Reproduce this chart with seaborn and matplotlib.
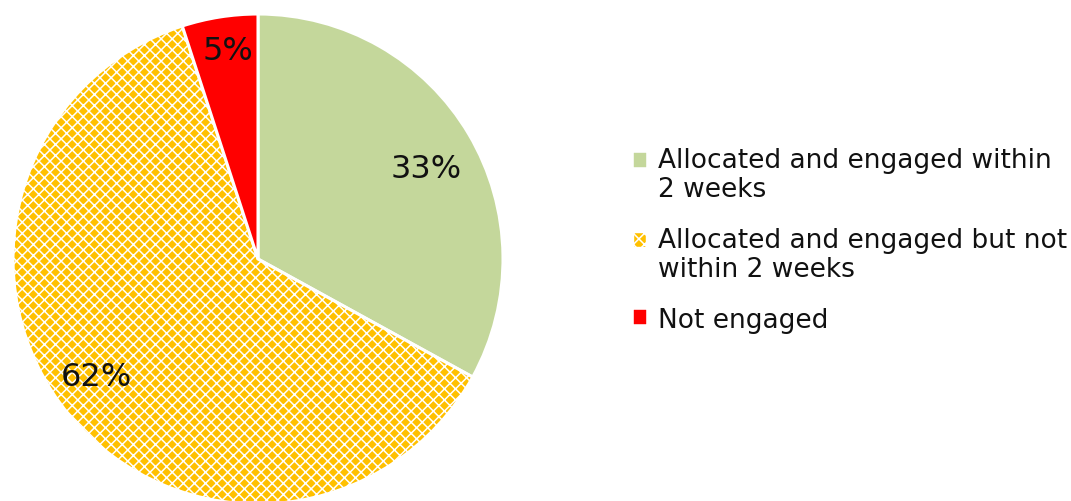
import matplotlib
matplotlib.use("Agg")
import matplotlib.pyplot as plt
from matplotlib.patches import Patch, Rectangle
from matplotlib.legend_handler import HandlerPatch
import numpy as np
import seaborn as sns

# Engagement outcome shares (percent)
categories = [
    "Allocated and engaged within\n2 weeks",
    "Allocated and engaged but not\nwithin 2 weeks",
    "Not engaged",
]
shares = [33, 62, 5]
slice_colors = ["#C4D79B", "#FFC000", "#FF0000"]
slice_hatches = [None, "xxx", None]

sns.set_theme(style="white")
plt.rcParams["font.family"] = ["DejaVu Sans"]
plt.rcParams["hatch.linewidth"] = 1.1

W, H = 1071, 502
fig = plt.figure(figsize=(W / 100, H / 100), dpi=100)
fig.patch.set_facecolor("white")

# pie axes placed in pixel terms: centre (258, 260), radius 245
cx, cy, r = 258, 260, 245
ax = fig.add_axes([(cx - r) / W, (H - cy - r) / H, 2 * r / W, 2 * r / H])
ax.set_axis_off()

palette = sns.color_palette(slice_colors)
wedges, _ = ax.pie(
    shares,
    colors=palette,
    startangle=90,
    counterclock=False,
    radius=1.0,
    wedgeprops=dict(edgecolor="white", linewidth=2.2),
)
for w, h in zip(wedges, slice_hatches):
    if h:
        w.set_hatch(h)

# percentage labels: radial distance and angular nudge per slice
label_dist = [0.78, 0.815, 0.86]
label_turn = [-2.4, -3.4, -0.8]
for w, v, d, t in zip(wedges, shares, label_dist, label_turn):
    mid = np.deg2rad((w.theta1 + w.theta2) / 2 + t)
    ax.text(d * np.cos(mid), d * np.sin(mid), f"{v}%",
            ha="center", va="center", fontsize=23, color="#111111")
ax.set_xlim(-1, 1)
ax.set_ylim(-1, 1)
ax.set_aspect("equal")

LEG_FS = 19
LEG_LS = 1.14

handles = [Patch(facecolor=c, edgecolor="white" if h else c, hatch=h, linewidth=0.3)
           for c, h in zip(slice_colors, slice_hatches)]
line_count = {id(hd): lab.count("\n") + 1 for hd, lab in zip(handles, categories)}


def top_line_square(legend, orig_handle, xdescent, ydescent, width, height, fontsize):
    # keep the swatch level with the first line of a wrapped label
    lift = (line_count.get(id(orig_handle), 1) - 1) * LEG_FS * LEG_LS / 2.0
    return Rectangle((-xdescent, -ydescent + lift), width, height)


leg = fig.legend(
    handles, categories,
    loc="upper left",
    bbox_to_anchor=(634 / W, 1 - 148 / H),
    frameon=False,
    fontsize=LEG_FS,
    handlelength=0.45,
    handleheight=0.45,
    handletextpad=0.45,
    labelspacing=0.95,
    borderaxespad=0,
    borderpad=0,
    handler_map={Patch: HandlerPatch(patch_func=top_line_square)},
)
for t in leg.get_texts():
    t.set_color("#111111")
    t.set_linespacing(LEG_LS)

fig.savefig("out.png", dpi=100, facecolor="white")
